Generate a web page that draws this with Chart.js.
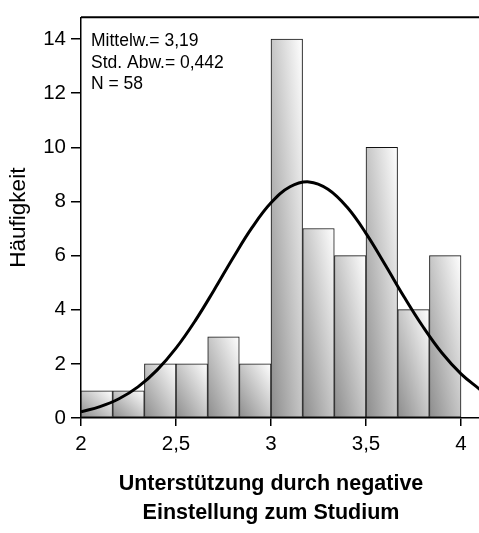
<!DOCTYPE html>
<html>
<head>
<meta charset="utf-8">
<script src="https://cdn.jsdelivr.net/npm/chart.js@4.4.1/dist/chart.umd.min.js"></script>
<style>
  html, body { margin: 0; padding: 0; background: #fff; overflow: hidden; }
</style>
</head>
<body>
<canvas id="histChart" width="500" height="533"></canvas>
<script>
// histogram bins (centres) and counts
const binCenters = [2.083, 2.25, 2.417, 2.583, 2.75, 2.917, 3.083, 3.25, 3.417, 3.583, 3.75, 3.917];
const counts = [1, 1, 2, 2, 3, 2, 14, 7, 6, 10, 4, 6];

// normal curve
const curveX = [2.0, 2.1, 2.2, 2.3, 2.4, 2.5, 2.6, 2.7, 2.8, 2.9, 3.0, 3.1, 3.2, 3.3, 3.4, 3.5, 3.6, 3.7, 3.8, 3.9, 4.0, 4.1];
const curveY = [0.23, 0.42, 0.71, 1.15, 1.77, 2.58, 3.58, 4.72, 5.91, 7.03, 7.95, 8.54, 8.72, 8.45, 7.79, 6.82, 5.67, 4.48, 3.37, 2.40, 1.63, 1.05];

const xTicks = [2, 2.5, 3, 3.5, 4];
const yTicks = [0, 2, 4, 6, 8, 10, 12, 14];
const statsLines = ['Mittelw.= 3,19', 'Std. Abw.= 0,442', 'N = 58'];
const xTitle = ['Unterstützung durch negative', 'Einstellung zum Studium'];

const FONT = "'Liberation Sans', Arial, sans-serif";

// diagonal shading like the SPSS bars: dark bottom-left, white top-right
function barGradient(context) {
    const chart = context.chart;
    const xs = chart.scales.x, ys = chart.scales.y;
    if (!chart.chartArea || !xs || !ys || context.dataIndex === undefined) return '#cccccc';
    const half = (binCenters[1] - binCenters[0]) / 2;
    const c = binCenters[context.dataIndex];
    const x0 = xs.getPixelForValue(c - half), x1 = xs.getPixelForValue(c + half);
    const y0 = ys.getPixelForValue(counts[context.dataIndex]), y1 = ys.getPixelForValue(0);
    const w = x1 - x0, h = y1 - y0;
    const L2 = w * w + h * h;
    const g = chart.ctx.createLinearGradient(x0, y1, x0 + 2 * w * h * h / L2, y1 - 2 * w * w * h / L2);
    g.addColorStop(0, '#8c8c8c');
    g.addColorStop(1, '#ffffff');
    return g;
}

const extras = {
    id: 'extras',
    afterDraw(chart) {
        const ctx = chart.ctx;
        const area = chart.chartArea;
        ctx.save();
        // top frame line
        ctx.strokeStyle = '#000';
        ctx.lineWidth = 2;
        ctx.beginPath();
        ctx.moveTo(area.left, area.top);
        ctx.lineTo(chart.width, area.top);
        ctx.stroke();

        // stats box text
        ctx.fillStyle = '#000';
        ctx.font = '17.5px ' + FONT;
        ctx.textAlign = 'left';
        ctx.textBaseline = 'alphabetic';
        statsLines.forEach((t, i) => ctx.fillText(t, area.left + 10, area.top + 29 + i * 21.5));

        // x axis title, centred over the 2..4 span
        const xs = chart.scales.x;
        const cx = (xs.getPixelForValue(xTicks[0]) + xs.getPixelForValue(xTicks[xTicks.length - 1])) / 2;
        ctx.font = 'bold 21.5px ' + FONT;
        ctx.textAlign = 'center';
        xTitle.forEach((t, i) => ctx.fillText(t, cx, 490 + i * 29));
        ctx.restore();
    }
};

const ctx = document.getElementById('histChart').getContext('2d');
new Chart(ctx, {
    data: {
        datasets: [{
            type: 'line',
            data: curveX.map((x, i) => ({ x: x, y: curveY[i] })),
            borderColor: '#000',
            borderWidth: 3,
            pointRadius: 0,
            tension: 0.4,
            fill: false,
            order: 0
        }, {
            type: 'bar',
            data: binCenters.map((x, i) => ({ x: x, y: counts[i] })),
            backgroundColor: barGradient,
            borderColor: '#111',
            borderWidth: 1,
            borderSkipped: false,
            barPercentage: 1,
            categoryPercentage: 1,
            order: 1
        }]
    },
    options: {
        responsive: false,
        animation: false,
        events: [],
        layout: { padding: { left: 0, top: 8, right: 20, bottom: 0 } },
        plugins: {
            legend: { display: false },
            tooltip: { enabled: false }
        },
        scales: {
            x: {
                type: 'linear',
                offset: false,
                min: 2,
                max: 4.1,
                afterBuildTicks: s => { s.ticks = xTicks.map(v => ({ value: v })); },
                afterFit: s => { s.height = 115; },
                grid: { offset: false, drawOnChartArea: false, drawTicks: true, tickLength: 8, color: '#000', lineWidth: 1.5 },
                border: { display: true, color: '#000', width: 1.5 },
                ticks: {
                    color: '#000',
                    padding: 6,
                    maxRotation: 0,
                    font: { family: FONT, size: 20.5 },
                    callback: v => String(v).replace('.', ',')
                },
                title: { display: false }
            },
            y: {
                min: 0,
                max: 14.8,
                afterBuildTicks: s => { s.ticks = yTicks.map(v => ({ value: v })); },
                afterFit: s => { s.width = 81; },
                grid: { drawOnChartArea: false, drawTicks: true, tickLength: 10, color: '#000', lineWidth: 1.5 },
                border: { display: true, color: '#000', width: 1.5 },
                ticks: {
                    color: '#000',
                    padding: 5,
                    font: { family: FONT, size: 20.5 }
                },
                title: {
                    display: true,
                    text: 'Häufigkeit',
                    color: '#000',
                    font: { family: FONT, size: 22.5 },
                    padding: { top: 5, bottom: 0 }
                }
            }
        }
    },
    plugins: [extras]
});
</script>
</body>
</html>
